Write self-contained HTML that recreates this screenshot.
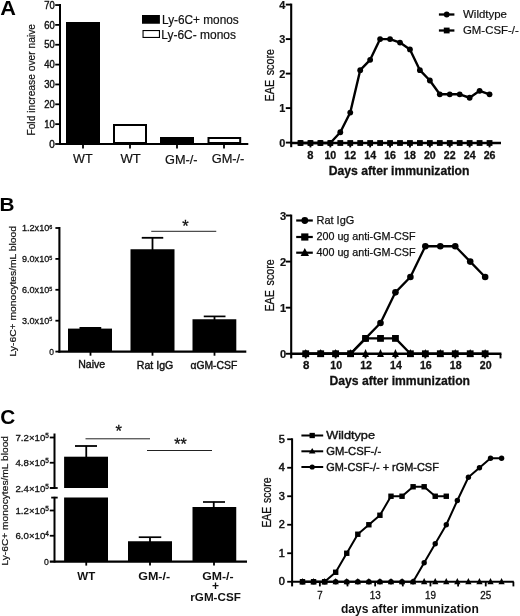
<!DOCTYPE html>
<html lang="en"><head><meta charset="utf-8"><title>Figure</title>
<style>
html,body{margin:0;padding:0;background:#fff;}
svg{display:block;font-family:'Liberation Sans', sans-serif;}
</style></head>
<body>
<svg width="520" height="616" viewBox="0 0 520 616">
<rect x="0" y="0" width="520" height="616" fill="#fff"/>
<text x="0.20" y="15.30" font-size="19.5" textLength="15.70" lengthAdjust="spacingAndGlyphs" font-weight="bold" fill="#000" >A</text>
<line x1="60.00" y1="4.00" x2="60.00" y2="145.00" stroke="#000" stroke-width="2.0" stroke-linecap="butt"/>
<line x1="55.20" y1="144.00" x2="60.00" y2="144.00" stroke="#000" stroke-width="1.8" stroke-linecap="butt"/>
<text x="49.30" y="147.60" font-size="10.2" textLength="5.50" lengthAdjust="spacingAndGlyphs" stroke="#111" stroke-width="0.4" fill="#111" >0</text>
<line x1="55.20" y1="124.15" x2="60.00" y2="124.15" stroke="#000" stroke-width="1.8" stroke-linecap="butt"/>
<text x="44.20" y="127.75" font-size="10.2" textLength="10.50" lengthAdjust="spacingAndGlyphs" stroke="#111" stroke-width="0.4" fill="#111" >10</text>
<line x1="55.20" y1="104.30" x2="60.00" y2="104.30" stroke="#000" stroke-width="1.8" stroke-linecap="butt"/>
<text x="44.20" y="107.90" font-size="10.2" textLength="10.50" lengthAdjust="spacingAndGlyphs" stroke="#111" stroke-width="0.4" fill="#111" >20</text>
<line x1="55.20" y1="84.45" x2="60.00" y2="84.45" stroke="#000" stroke-width="1.8" stroke-linecap="butt"/>
<text x="44.20" y="88.05" font-size="10.2" textLength="10.50" lengthAdjust="spacingAndGlyphs" stroke="#111" stroke-width="0.4" fill="#111" >30</text>
<line x1="55.20" y1="64.60" x2="60.00" y2="64.60" stroke="#000" stroke-width="1.8" stroke-linecap="butt"/>
<text x="44.20" y="68.20" font-size="10.2" textLength="10.50" lengthAdjust="spacingAndGlyphs" stroke="#111" stroke-width="0.4" fill="#111" >40</text>
<line x1="55.20" y1="44.75" x2="60.00" y2="44.75" stroke="#000" stroke-width="1.8" stroke-linecap="butt"/>
<text x="44.20" y="48.35" font-size="10.2" textLength="10.50" lengthAdjust="spacingAndGlyphs" stroke="#111" stroke-width="0.4" fill="#111" >50</text>
<line x1="55.20" y1="24.90" x2="60.00" y2="24.90" stroke="#000" stroke-width="1.8" stroke-linecap="butt"/>
<text x="44.20" y="28.50" font-size="10.2" textLength="10.50" lengthAdjust="spacingAndGlyphs" stroke="#111" stroke-width="0.4" fill="#111" >60</text>
<line x1="55.20" y1="5.05" x2="60.00" y2="5.05" stroke="#000" stroke-width="1.8" stroke-linecap="butt"/>
<text x="44.20" y="8.65" font-size="10.2" textLength="10.50" lengthAdjust="spacingAndGlyphs" stroke="#111" stroke-width="0.4" fill="#111" >70</text>
<line x1="59.00" y1="144.00" x2="248.30" y2="144.00" stroke="#000" stroke-width="2.2" stroke-linecap="butt"/>
<line x1="83.00" y1="144.00" x2="83.00" y2="148.50" stroke="#000" stroke-width="1.8" stroke-linecap="butt"/>
<line x1="130.00" y1="144.00" x2="130.00" y2="148.50" stroke="#000" stroke-width="1.8" stroke-linecap="butt"/>
<line x1="177.00" y1="144.00" x2="177.00" y2="148.50" stroke="#000" stroke-width="1.8" stroke-linecap="butt"/>
<line x1="224.00" y1="144.00" x2="224.00" y2="148.50" stroke="#000" stroke-width="1.8" stroke-linecap="butt"/>
<rect x="66.00" y="22.00" width="34.00" height="122.00" fill="#000"/>
<rect x="114.00" y="125.00" width="32.00" height="18.00" fill="#fff" stroke="#000" stroke-width="2"/>
<rect x="160.00" y="137.00" width="34.00" height="7.00" fill="#000"/>
<rect x="208.50" y="138.00" width="31.70" height="5.00" fill="#fff" stroke="#000" stroke-width="2"/>
<text x="73.00" y="162.50" font-size="13" textLength="19.60" lengthAdjust="spacingAndGlyphs" stroke="#111" stroke-width="0.2" fill="#111" >WT</text>
<text x="120.50" y="162.50" font-size="13" textLength="20.30" lengthAdjust="spacingAndGlyphs" stroke="#111" stroke-width="0.2" fill="#111" >WT</text>
<text x="165.00" y="163.60" font-size="13" textLength="32.50" lengthAdjust="spacingAndGlyphs" stroke="#111" stroke-width="0.2" fill="#111" >GM-/-</text>
<text x="211.70" y="162.80" font-size="13" textLength="32.70" lengthAdjust="spacingAndGlyphs" stroke="#111" stroke-width="0.2" fill="#111" >GM-/-</text>
<rect x="142.00" y="15.00" width="17.90" height="8.75" fill="#000"/>
<rect x="143.05" y="30.55" width="16.40" height="6.90" fill="#fff" stroke="#000" stroke-width="1.1"/>
<text x="162.00" y="23.90" font-size="12.5" textLength="76.75" lengthAdjust="spacingAndGlyphs" stroke="#111" stroke-width="0.2" fill="#111" >Ly-6C+ monos</text>
<text x="161.25" y="38.60" font-size="12.5" textLength="74.75" lengthAdjust="spacingAndGlyphs" stroke="#111" stroke-width="0.2" fill="#111" >Ly-6C- monos</text>
<text transform="translate(34.50,135.60) rotate(-90)" x="0" y="0" font-size="10.8" textLength="111.60" lengthAdjust="spacingAndGlyphs" stroke="#111" stroke-width="0.2" fill="#111">Fold increase over naive</text>
<line x1="291.20" y1="3.60" x2="291.20" y2="147.20" stroke="#000" stroke-width="2.1" stroke-linecap="butt"/>
<line x1="285.80" y1="142.60" x2="291.20" y2="142.60" stroke="#000" stroke-width="1.9" stroke-linecap="butt"/>
<text x="279.20" y="146.50" font-size="10.8" textLength="6.10" lengthAdjust="spacingAndGlyphs" font-weight="bold" stroke="#111" stroke-width="0.2" fill="#111" >0</text>
<line x1="285.80" y1="108.10" x2="291.20" y2="108.10" stroke="#000" stroke-width="1.9" stroke-linecap="butt"/>
<text x="279.20" y="112.00" font-size="10.8" textLength="6.10" lengthAdjust="spacingAndGlyphs" font-weight="bold" stroke="#111" stroke-width="0.2" fill="#111" >1</text>
<line x1="285.80" y1="73.60" x2="291.20" y2="73.60" stroke="#000" stroke-width="1.9" stroke-linecap="butt"/>
<text x="279.20" y="77.50" font-size="10.8" textLength="6.10" lengthAdjust="spacingAndGlyphs" font-weight="bold" stroke="#111" stroke-width="0.2" fill="#111" >2</text>
<line x1="285.80" y1="39.10" x2="291.20" y2="39.10" stroke="#000" stroke-width="1.9" stroke-linecap="butt"/>
<text x="279.20" y="43.00" font-size="10.8" textLength="6.10" lengthAdjust="spacingAndGlyphs" font-weight="bold" stroke="#111" stroke-width="0.2" fill="#111" >3</text>
<line x1="285.80" y1="4.60" x2="291.20" y2="4.60" stroke="#000" stroke-width="1.9" stroke-linecap="butt"/>
<text x="279.20" y="8.50" font-size="10.8" textLength="6.10" lengthAdjust="spacingAndGlyphs" font-weight="bold" stroke="#111" stroke-width="0.2" fill="#111" >4</text>
<line x1="290.50" y1="143.00" x2="501.00" y2="143.00" stroke="#000" stroke-width="2.3" stroke-linecap="butt"/>
<line x1="310.45" y1="143.00" x2="310.45" y2="147.40" stroke="#000" stroke-width="1.9" stroke-linecap="butt"/>
<text x="307.35" y="158.60" font-size="11.4" textLength="6.20" lengthAdjust="spacingAndGlyphs" font-weight="bold" stroke="#111" stroke-width="0.3" fill="#111" >8</text>
<line x1="330.35" y1="143.00" x2="330.35" y2="147.40" stroke="#000" stroke-width="1.9" stroke-linecap="butt"/>
<text x="324.45" y="158.60" font-size="11.4" textLength="11.80" lengthAdjust="spacingAndGlyphs" font-weight="bold" stroke="#111" stroke-width="0.3" fill="#111" >10</text>
<line x1="350.25" y1="143.00" x2="350.25" y2="147.40" stroke="#000" stroke-width="1.9" stroke-linecap="butt"/>
<text x="344.35" y="158.60" font-size="11.4" textLength="11.80" lengthAdjust="spacingAndGlyphs" font-weight="bold" stroke="#111" stroke-width="0.3" fill="#111" >12</text>
<line x1="370.15" y1="143.00" x2="370.15" y2="147.40" stroke="#000" stroke-width="1.9" stroke-linecap="butt"/>
<text x="364.25" y="158.60" font-size="11.4" textLength="11.80" lengthAdjust="spacingAndGlyphs" font-weight="bold" stroke="#111" stroke-width="0.3" fill="#111" >14</text>
<line x1="390.05" y1="143.00" x2="390.05" y2="147.40" stroke="#000" stroke-width="1.9" stroke-linecap="butt"/>
<text x="384.15" y="158.60" font-size="11.4" textLength="11.80" lengthAdjust="spacingAndGlyphs" font-weight="bold" stroke="#111" stroke-width="0.3" fill="#111" >16</text>
<line x1="409.95" y1="143.00" x2="409.95" y2="147.40" stroke="#000" stroke-width="1.9" stroke-linecap="butt"/>
<text x="404.05" y="158.60" font-size="11.4" textLength="11.80" lengthAdjust="spacingAndGlyphs" font-weight="bold" stroke="#111" stroke-width="0.3" fill="#111" >18</text>
<line x1="429.85" y1="143.00" x2="429.85" y2="147.40" stroke="#000" stroke-width="1.9" stroke-linecap="butt"/>
<text x="423.95" y="158.60" font-size="11.4" textLength="11.80" lengthAdjust="spacingAndGlyphs" font-weight="bold" stroke="#111" stroke-width="0.3" fill="#111" >20</text>
<line x1="449.75" y1="143.00" x2="449.75" y2="147.40" stroke="#000" stroke-width="1.9" stroke-linecap="butt"/>
<text x="443.85" y="158.60" font-size="11.4" textLength="11.80" lengthAdjust="spacingAndGlyphs" font-weight="bold" stroke="#111" stroke-width="0.3" fill="#111" >22</text>
<line x1="469.65" y1="143.00" x2="469.65" y2="147.40" stroke="#000" stroke-width="1.9" stroke-linecap="butt"/>
<text x="463.75" y="158.60" font-size="11.4" textLength="11.80" lengthAdjust="spacingAndGlyphs" font-weight="bold" stroke="#111" stroke-width="0.3" fill="#111" >24</text>
<line x1="489.55" y1="143.00" x2="489.55" y2="147.40" stroke="#000" stroke-width="1.9" stroke-linecap="butt"/>
<text x="483.65" y="158.60" font-size="11.4" textLength="11.80" lengthAdjust="spacingAndGlyphs" font-weight="bold" stroke="#111" stroke-width="0.3" fill="#111" >26</text>
<text x="328.75" y="175.00" font-size="12.5" textLength="140.75" lengthAdjust="spacingAndGlyphs" font-weight="bold" stroke="#111" stroke-width="0.3" fill="#111" >Days after immunization</text>
<text transform="translate(274.00,101.40) rotate(-90)" x="0" y="0" font-size="12" textLength="52.40" lengthAdjust="spacingAndGlyphs" stroke="#111" stroke-width="0.25" word-spacing="1.8" fill="#111">EAE score</text>
<polyline fill="none" stroke="#000" stroke-width="2.4" stroke-linejoin="round" points="300.50,143.00 310.45,143.00 320.40,143.00 330.35,143.00 340.30,132.25 350.25,112.58 360.20,70.15 370.15,59.80 380.10,39.10 390.05,39.10 400.00,42.55 409.95,49.45 419.90,70.15 429.85,80.50 439.80,94.30 449.75,94.30 459.70,94.30 469.65,97.75 479.60,90.85 489.55,94.30"/>
<circle cx="300.50" cy="143.00" r="2.9" fill="#000"/>
<circle cx="310.45" cy="143.00" r="2.9" fill="#000"/>
<circle cx="320.40" cy="143.00" r="2.9" fill="#000"/>
<circle cx="330.35" cy="143.00" r="2.9" fill="#000"/>
<circle cx="340.30" cy="132.25" r="2.9" fill="#000"/>
<circle cx="350.25" cy="112.58" r="2.9" fill="#000"/>
<circle cx="360.20" cy="70.15" r="2.9" fill="#000"/>
<circle cx="370.15" cy="59.80" r="2.9" fill="#000"/>
<circle cx="380.10" cy="39.10" r="2.9" fill="#000"/>
<circle cx="390.05" cy="39.10" r="2.9" fill="#000"/>
<circle cx="400.00" cy="42.55" r="2.9" fill="#000"/>
<circle cx="409.95" cy="49.45" r="2.9" fill="#000"/>
<circle cx="419.90" cy="70.15" r="2.9" fill="#000"/>
<circle cx="429.85" cy="80.50" r="2.9" fill="#000"/>
<circle cx="439.80" cy="94.30" r="2.9" fill="#000"/>
<circle cx="449.75" cy="94.30" r="2.9" fill="#000"/>
<circle cx="459.70" cy="94.30" r="2.9" fill="#000"/>
<circle cx="469.65" cy="97.75" r="2.9" fill="#000"/>
<circle cx="479.60" cy="90.85" r="2.9" fill="#000"/>
<circle cx="489.55" cy="94.30" r="2.9" fill="#000"/>
<rect x="297.60" y="140.10" width="5.8" height="5.8" fill="#000"/>
<rect x="307.55" y="140.10" width="5.8" height="5.8" fill="#000"/>
<rect x="317.50" y="140.10" width="5.8" height="5.8" fill="#000"/>
<rect x="327.45" y="140.10" width="5.8" height="5.8" fill="#000"/>
<rect x="337.40" y="140.10" width="5.8" height="5.8" fill="#000"/>
<rect x="347.35" y="140.10" width="5.8" height="5.8" fill="#000"/>
<rect x="357.30" y="140.10" width="5.8" height="5.8" fill="#000"/>
<rect x="367.25" y="140.10" width="5.8" height="5.8" fill="#000"/>
<rect x="377.20" y="140.10" width="5.8" height="5.8" fill="#000"/>
<rect x="387.15" y="140.10" width="5.8" height="5.8" fill="#000"/>
<rect x="397.10" y="140.10" width="5.8" height="5.8" fill="#000"/>
<rect x="407.05" y="140.10" width="5.8" height="5.8" fill="#000"/>
<rect x="417.00" y="140.10" width="5.8" height="5.8" fill="#000"/>
<rect x="426.95" y="140.10" width="5.8" height="5.8" fill="#000"/>
<rect x="436.90" y="140.10" width="5.8" height="5.8" fill="#000"/>
<rect x="446.85" y="140.10" width="5.8" height="5.8" fill="#000"/>
<rect x="456.80" y="140.10" width="5.8" height="5.8" fill="#000"/>
<rect x="466.75" y="140.10" width="5.8" height="5.8" fill="#000"/>
<rect x="476.70" y="140.10" width="5.8" height="5.8" fill="#000"/>
<rect x="486.65" y="140.10" width="5.8" height="5.8" fill="#000"/>
<line x1="438.90" y1="14.50" x2="454.40" y2="14.50" stroke="#000" stroke-width="2.3" stroke-linecap="butt"/>
<circle cx="446.70" cy="14.50" r="2.9" fill="#000"/>
<line x1="438.90" y1="30.50" x2="454.40" y2="30.50" stroke="#000" stroke-width="2.3" stroke-linecap="butt"/>
<rect x="443.80" y="27.60" width="5.8" height="5.8" fill="#000"/>
<text x="463.00" y="18.00" font-size="11.5" textLength="44.00" lengthAdjust="spacingAndGlyphs" stroke="#111" stroke-width="0.2" fill="#111" >Wildtype</text>
<text x="463.00" y="34.00" font-size="11.5" textLength="55.75" lengthAdjust="spacingAndGlyphs" stroke="#111" stroke-width="0.2" fill="#111" >GM-CSF-/-</text>
<text x="-0.40" y="210.90" font-size="19.2" textLength="15.00" lengthAdjust="spacingAndGlyphs" font-weight="bold" fill="#000" >B</text>
<line x1="59.40" y1="227.00" x2="59.40" y2="352.60" stroke="#000" stroke-width="2.1" stroke-linecap="butt"/>
<line x1="55.40" y1="351.60" x2="59.40" y2="351.60" stroke="#000" stroke-width="1.8" stroke-linecap="butt"/>
<text x="49.30" y="354.90" font-size="9.2" textLength="4.70" lengthAdjust="spacingAndGlyphs" stroke="#111" stroke-width="0.3" fill="#111" >0</text>
<line x1="55.40" y1="320.70" x2="59.40" y2="320.70" stroke="#000" stroke-width="1.8" stroke-linecap="butt"/>
<text x="22.00" y="324.00" font-size="9.2" textLength="30.30" lengthAdjust="spacingAndGlyphs" stroke="#111" stroke-width="0.3" fill="#111" >3.0x10<tspan dy="-2.6" font-size="5.5">5</tspan></text>
<line x1="55.40" y1="289.80" x2="59.40" y2="289.80" stroke="#000" stroke-width="1.8" stroke-linecap="butt"/>
<text x="22.00" y="293.10" font-size="9.2" textLength="30.30" lengthAdjust="spacingAndGlyphs" stroke="#111" stroke-width="0.3" fill="#111" >6.0x10<tspan dy="-2.6" font-size="5.5">5</tspan></text>
<line x1="55.40" y1="258.90" x2="59.40" y2="258.90" stroke="#000" stroke-width="1.8" stroke-linecap="butt"/>
<text x="22.00" y="262.20" font-size="9.2" textLength="30.30" lengthAdjust="spacingAndGlyphs" stroke="#111" stroke-width="0.3" fill="#111" >9.0x10<tspan dy="-2.6" font-size="5.5">5</tspan></text>
<line x1="55.40" y1="228.00" x2="59.40" y2="228.00" stroke="#000" stroke-width="1.8" stroke-linecap="butt"/>
<text x="22.00" y="231.30" font-size="9.2" textLength="30.30" lengthAdjust="spacingAndGlyphs" stroke="#111" stroke-width="0.3" fill="#111" >1.2x10<tspan dy="-2.6" font-size="5.5">6</tspan></text>
<line x1="58.40" y1="351.60" x2="246.30" y2="351.60" stroke="#000" stroke-width="2.1" stroke-linecap="butt"/>
<line x1="90.50" y1="351.60" x2="90.50" y2="355.70" stroke="#000" stroke-width="1.8" stroke-linecap="butt"/>
<line x1="152.50" y1="351.60" x2="152.50" y2="355.70" stroke="#000" stroke-width="1.8" stroke-linecap="butt"/>
<line x1="214.50" y1="351.60" x2="214.50" y2="355.70" stroke="#000" stroke-width="1.8" stroke-linecap="butt"/>
<rect x="68.00" y="328.60" width="44.00" height="23.00" fill="#000"/>
<rect x="79.50" y="327.00" width="21.75" height="2.00" fill="#000"/>
<rect x="130.50" y="249.25" width="44.00" height="102.35" fill="#000"/>
<line x1="152.50" y1="237.50" x2="152.50" y2="250.00" stroke="#000" stroke-width="1.8" stroke-linecap="butt"/>
<line x1="141.75" y1="237.80" x2="163.25" y2="237.80" stroke="#000" stroke-width="1.8" stroke-linecap="butt"/>
<rect x="192.50" y="319.25" width="43.80" height="32.35" fill="#000"/>
<line x1="214.50" y1="316.30" x2="214.50" y2="320.00" stroke="#000" stroke-width="1.8" stroke-linecap="butt"/>
<line x1="203.75" y1="316.40" x2="225.50" y2="316.40" stroke="#000" stroke-width="1.7" stroke-linecap="butt"/>
<text x="78.20" y="368.30" font-size="10.6" textLength="27.00" lengthAdjust="spacingAndGlyphs" stroke="#111" stroke-width="0.4" fill="#111" >Naive</text>
<text x="136.80" y="368.50" font-size="10.6" textLength="36.50" lengthAdjust="spacingAndGlyphs" stroke="#111" stroke-width="0.4" fill="#111" >Rat IgG</text>
<text x="190.40" y="369.10" font-size="10.6" textLength="46.90" lengthAdjust="spacingAndGlyphs" stroke="#111" stroke-width="0.4" fill="#111" >αGM-CSF</text>
<line x1="151.25" y1="231.30" x2="216.25" y2="231.30" stroke="#222" stroke-width="1" stroke-linecap="butt"/>
<text x="185.40" y="231.90" font-size="16.5" text-anchor="middle" stroke="#111" stroke-width="0.3" fill="#111" >*</text>
<text transform="translate(16.25,356.50) rotate(-90)" x="0" y="0" font-size="9.5" textLength="130.50" lengthAdjust="spacingAndGlyphs" stroke="#111" stroke-width="0.2" fill="#111">Ly-6C+ monocytes/mL blood</text>
<line x1="291.20" y1="214.60" x2="291.20" y2="358.40" stroke="#000" stroke-width="2.1" stroke-linecap="butt"/>
<line x1="285.80" y1="353.75" x2="291.20" y2="353.75" stroke="#000" stroke-width="1.9" stroke-linecap="butt"/>
<text x="280.00" y="357.75" font-size="10.8" textLength="6.20" lengthAdjust="spacingAndGlyphs" font-weight="bold" stroke="#111" stroke-width="0.2" fill="#111" >0</text>
<line x1="285.80" y1="307.67" x2="291.20" y2="307.67" stroke="#000" stroke-width="1.9" stroke-linecap="butt"/>
<text x="280.00" y="311.67" font-size="10.8" textLength="6.20" lengthAdjust="spacingAndGlyphs" font-weight="bold" stroke="#111" stroke-width="0.2" fill="#111" >1</text>
<line x1="285.80" y1="261.59" x2="291.20" y2="261.59" stroke="#000" stroke-width="1.9" stroke-linecap="butt"/>
<text x="280.00" y="265.59" font-size="10.8" textLength="6.20" lengthAdjust="spacingAndGlyphs" font-weight="bold" stroke="#111" stroke-width="0.2" fill="#111" >2</text>
<line x1="285.80" y1="215.51" x2="291.20" y2="215.51" stroke="#000" stroke-width="1.9" stroke-linecap="butt"/>
<text x="280.00" y="219.51" font-size="10.8" textLength="6.20" lengthAdjust="spacingAndGlyphs" font-weight="bold" stroke="#111" stroke-width="0.2" fill="#111" >3</text>
<line x1="290.50" y1="353.75" x2="501.40" y2="353.75" stroke="#000" stroke-width="2.3" stroke-linecap="butt"/>
<line x1="305.75" y1="353.75" x2="305.75" y2="358.40" stroke="#000" stroke-width="1.9" stroke-linecap="butt"/>
<text x="303.05" y="369.40" font-size="11.4" textLength="6.40" lengthAdjust="spacingAndGlyphs" font-weight="bold" stroke="#111" stroke-width="0.3" fill="#111" >8</text>
<line x1="335.65" y1="353.75" x2="335.65" y2="358.40" stroke="#000" stroke-width="1.9" stroke-linecap="butt"/>
<text x="330.25" y="369.40" font-size="11.4" textLength="11.80" lengthAdjust="spacingAndGlyphs" font-weight="bold" stroke="#111" stroke-width="0.3" fill="#111" >10</text>
<line x1="365.55" y1="353.75" x2="365.55" y2="358.40" stroke="#000" stroke-width="1.9" stroke-linecap="butt"/>
<text x="360.15" y="369.40" font-size="11.4" textLength="11.80" lengthAdjust="spacingAndGlyphs" font-weight="bold" stroke="#111" stroke-width="0.3" fill="#111" >12</text>
<line x1="395.45" y1="353.75" x2="395.45" y2="358.40" stroke="#000" stroke-width="1.9" stroke-linecap="butt"/>
<text x="390.05" y="369.40" font-size="11.4" textLength="11.80" lengthAdjust="spacingAndGlyphs" font-weight="bold" stroke="#111" stroke-width="0.3" fill="#111" >14</text>
<line x1="425.35" y1="353.75" x2="425.35" y2="358.40" stroke="#000" stroke-width="1.9" stroke-linecap="butt"/>
<text x="419.95" y="369.40" font-size="11.4" textLength="11.80" lengthAdjust="spacingAndGlyphs" font-weight="bold" stroke="#111" stroke-width="0.3" fill="#111" >16</text>
<line x1="455.25" y1="353.75" x2="455.25" y2="358.40" stroke="#000" stroke-width="1.9" stroke-linecap="butt"/>
<text x="449.85" y="369.40" font-size="11.4" textLength="11.80" lengthAdjust="spacingAndGlyphs" font-weight="bold" stroke="#111" stroke-width="0.3" fill="#111" >18</text>
<line x1="485.15" y1="353.75" x2="485.15" y2="358.40" stroke="#000" stroke-width="1.9" stroke-linecap="butt"/>
<text x="479.75" y="369.40" font-size="11.4" textLength="11.80" lengthAdjust="spacingAndGlyphs" font-weight="bold" stroke="#111" stroke-width="0.3" fill="#111" >20</text>
<line x1="500.50" y1="353.75" x2="500.50" y2="358.40" stroke="#000" stroke-width="1.9" stroke-linecap="butt"/>
<text x="329.50" y="385.40" font-size="12.5" textLength="140.50" lengthAdjust="spacingAndGlyphs" font-weight="bold" stroke="#111" stroke-width="0.3" fill="#111" >Days after immunization</text>
<text transform="translate(274.00,311.60) rotate(-90)" x="0" y="0" font-size="12" textLength="52.40" lengthAdjust="spacingAndGlyphs" stroke="#111" stroke-width="0.25" word-spacing="1.8" fill="#111">EAE score</text>
<polygon points="305.75,348.96 302.31,356.94 309.19,356.94" fill="#000"/>
<polygon points="320.70,348.96 317.26,356.94 324.14,356.94" fill="#000"/>
<polygon points="335.65,348.96 332.21,356.94 339.09,356.94" fill="#000"/>
<polygon points="350.60,348.96 347.16,356.94 354.04,356.94" fill="#000"/>
<polygon points="365.55,348.96 362.11,356.94 368.99,356.94" fill="#000"/>
<polygon points="380.50,348.96 377.06,356.94 383.94,356.94" fill="#000"/>
<polygon points="395.45,348.96 392.01,356.94 398.89,356.94" fill="#000"/>
<polygon points="410.40,348.96 406.96,356.94 413.84,356.94" fill="#000"/>
<polygon points="425.35,348.96 421.91,356.94 428.79,356.94" fill="#000"/>
<polygon points="440.30,348.96 436.86,356.94 443.74,356.94" fill="#000"/>
<polygon points="455.25,348.96 451.81,356.94 458.69,356.94" fill="#000"/>
<polygon points="470.20,348.96 466.76,356.94 473.64,356.94" fill="#000"/>
<polygon points="485.15,348.96 481.71,356.94 488.59,356.94" fill="#000"/>
<polyline fill="none" stroke="#000" stroke-width="2.3" stroke-linejoin="round" points="305.75,353.75 320.70,353.75 335.65,353.75 350.60,353.75 365.55,338.41 380.50,323.01 395.45,292.33 410.40,276.93 425.35,246.25 440.30,246.25 455.25,246.25 470.20,261.59 485.15,276.93"/>
<circle cx="305.75" cy="353.75" r="3.3" fill="#000"/>
<circle cx="320.70" cy="353.75" r="3.3" fill="#000"/>
<circle cx="335.65" cy="353.75" r="3.3" fill="#000"/>
<circle cx="350.60" cy="353.75" r="3.3" fill="#000"/>
<circle cx="365.55" cy="338.41" r="3.3" fill="#000"/>
<circle cx="380.50" cy="323.01" r="3.3" fill="#000"/>
<circle cx="395.45" cy="292.33" r="3.3" fill="#000"/>
<circle cx="410.40" cy="276.93" r="3.3" fill="#000"/>
<circle cx="425.35" cy="246.25" r="3.3" fill="#000"/>
<circle cx="440.30" cy="246.25" r="3.3" fill="#000"/>
<circle cx="455.25" cy="246.25" r="3.3" fill="#000"/>
<circle cx="470.20" cy="261.59" r="3.3" fill="#000"/>
<circle cx="485.15" cy="276.93" r="3.3" fill="#000"/>
<polyline fill="none" stroke="#000" stroke-width="2.3" stroke-linejoin="round" points="305.75,353.75 320.70,353.75 335.65,353.75 350.60,353.75 365.55,338.41 380.50,338.41 395.45,338.41 410.40,353.75 425.35,353.75 440.30,353.75 455.25,353.75 470.20,353.75 485.15,353.75"/>
<rect x="302.35" y="350.35" width="6.8" height="6.8" fill="#000"/>
<rect x="317.30" y="350.35" width="6.8" height="6.8" fill="#000"/>
<rect x="332.25" y="350.35" width="6.8" height="6.8" fill="#000"/>
<rect x="347.20" y="350.35" width="6.8" height="6.8" fill="#000"/>
<rect x="362.15" y="335.01" width="6.8" height="6.8" fill="#000"/>
<rect x="377.10" y="335.01" width="6.8" height="6.8" fill="#000"/>
<rect x="392.05" y="335.01" width="6.8" height="6.8" fill="#000"/>
<rect x="407.00" y="350.35" width="6.8" height="6.8" fill="#000"/>
<rect x="421.95" y="350.35" width="6.8" height="6.8" fill="#000"/>
<rect x="436.90" y="350.35" width="6.8" height="6.8" fill="#000"/>
<rect x="451.85" y="350.35" width="6.8" height="6.8" fill="#000"/>
<rect x="466.80" y="350.35" width="6.8" height="6.8" fill="#000"/>
<rect x="481.75" y="350.35" width="6.8" height="6.8" fill="#000"/>
<line x1="296.20" y1="220.50" x2="312.80" y2="220.50" stroke="#000" stroke-width="2.2" stroke-linecap="butt"/>
<circle cx="304.80" cy="220.50" r="3.4" fill="#000"/>
<line x1="296.20" y1="237.00" x2="312.80" y2="237.00" stroke="#000" stroke-width="2.2" stroke-linecap="butt"/>
<rect x="301.20" y="233.40" width="7.2" height="7.2" fill="#000"/>
<line x1="296.20" y1="252.70" x2="312.80" y2="252.70" stroke="#000" stroke-width="2.2" stroke-linecap="butt"/>
<polygon points="304.80,247.91 300.60,255.89 309.00,255.89" fill="#000"/>
<text x="316.50" y="224.40" font-size="11" textLength="37.80" lengthAdjust="spacingAndGlyphs" stroke="#111" stroke-width="0.25" fill="#111" >Rat IgG</text>
<text x="316.50" y="240.40" font-size="11" textLength="99.00" lengthAdjust="spacingAndGlyphs" stroke="#111" stroke-width="0.25" fill="#111" >200 ug anti-GM-CSF</text>
<text x="316.50" y="256.20" font-size="11" textLength="99.00" lengthAdjust="spacingAndGlyphs" stroke="#111" stroke-width="0.25" fill="#111" >400 ug anti-GM-CSF</text>
<text x="0.20" y="424.30" font-size="20.6" textLength="15.00" lengthAdjust="spacingAndGlyphs" font-weight="bold" fill="#000" >C</text>
<line x1="54.50" y1="433.50" x2="54.50" y2="488.80" stroke="#000" stroke-width="2.0" stroke-linecap="butt"/>
<line x1="54.50" y1="496.80" x2="54.50" y2="562.50" stroke="#000" stroke-width="2.0" stroke-linecap="butt"/>
<line x1="50.00" y1="488.00" x2="57.70" y2="488.00" stroke="#000" stroke-width="1.8" stroke-linecap="butt"/>
<line x1="51.20" y1="497.60" x2="57.70" y2="497.60" stroke="#000" stroke-width="1.8" stroke-linecap="butt"/>
<line x1="49.80" y1="437.50" x2="54.50" y2="437.50" stroke="#000" stroke-width="1.8" stroke-linecap="butt"/>
<text x="15.50" y="441.00" font-size="9.7" textLength="33.40" lengthAdjust="spacingAndGlyphs" stroke="#111" stroke-width="0.3" fill="#111" >7.2×10<tspan dy="-2.8" font-size="6.5">5</tspan></text>
<line x1="49.80" y1="462.75" x2="54.50" y2="462.75" stroke="#000" stroke-width="1.8" stroke-linecap="butt"/>
<text x="15.50" y="466.25" font-size="9.7" textLength="33.40" lengthAdjust="spacingAndGlyphs" stroke="#111" stroke-width="0.3" fill="#111" >4.8×10<tspan dy="-2.8" font-size="6.5">5</tspan></text>
<line x1="49.80" y1="488.00" x2="54.50" y2="488.00" stroke="#000" stroke-width="1.8" stroke-linecap="butt"/>
<text x="15.50" y="491.50" font-size="9.7" textLength="33.40" lengthAdjust="spacingAndGlyphs" stroke="#111" stroke-width="0.3" fill="#111" >2.4×10<tspan dy="-2.8" font-size="6.5">5</tspan></text>
<line x1="49.80" y1="510.50" x2="54.50" y2="510.50" stroke="#000" stroke-width="1.8" stroke-linecap="butt"/>
<text x="15.50" y="514.00" font-size="9.7" textLength="33.40" lengthAdjust="spacingAndGlyphs" stroke="#111" stroke-width="0.3" fill="#111" >1.2×10<tspan dy="-2.8" font-size="6.5">5</tspan></text>
<line x1="49.80" y1="535.75" x2="54.50" y2="535.75" stroke="#000" stroke-width="1.8" stroke-linecap="butt"/>
<text x="15.50" y="539.25" font-size="9.7" textLength="33.40" lengthAdjust="spacingAndGlyphs" stroke="#111" stroke-width="0.3" fill="#111" >6.0×10<tspan dy="-2.8" font-size="6.5">4</tspan></text>
<text x="44.10" y="565.00" font-size="9.7" textLength="4.80" lengthAdjust="spacingAndGlyphs" stroke="#111" stroke-width="0.3" fill="#111" >0</text>
<line x1="49.80" y1="561.60" x2="247.00" y2="561.60" stroke="#000" stroke-width="2.1" stroke-linecap="butt"/>
<line x1="86.25" y1="561.60" x2="86.25" y2="565.60" stroke="#000" stroke-width="1.8" stroke-linecap="butt"/>
<line x1="150.00" y1="561.60" x2="150.00" y2="565.60" stroke="#000" stroke-width="1.8" stroke-linecap="butt"/>
<line x1="214.00" y1="561.60" x2="214.00" y2="565.60" stroke="#000" stroke-width="1.8" stroke-linecap="butt"/>
<rect x="64.10" y="456.70" width="43.90" height="31.30" fill="#000"/>
<rect x="64.10" y="497.50" width="43.90" height="64.10" fill="#000"/>
<line x1="86.25" y1="445.80" x2="86.25" y2="457.00" stroke="#000" stroke-width="1.8" stroke-linecap="butt"/>
<line x1="75.00" y1="446.00" x2="97.00" y2="446.00" stroke="#000" stroke-width="1.8" stroke-linecap="butt"/>
<rect x="128.00" y="541.25" width="44.00" height="20.35" fill="#000"/>
<line x1="150.00" y1="537.00" x2="150.00" y2="542.00" stroke="#000" stroke-width="1.8" stroke-linecap="butt"/>
<line x1="138.75" y1="537.20" x2="161.25" y2="537.20" stroke="#000" stroke-width="1.7" stroke-linecap="butt"/>
<rect x="192.50" y="507.00" width="43.75" height="54.60" fill="#000"/>
<line x1="213.75" y1="501.80" x2="213.75" y2="508.00" stroke="#000" stroke-width="1.8" stroke-linecap="butt"/>
<line x1="203.00" y1="502.00" x2="225.00" y2="502.00" stroke="#000" stroke-width="1.7" stroke-linecap="butt"/>
<text x="77.30" y="579.70" font-size="11.6" textLength="17.90" lengthAdjust="spacingAndGlyphs" font-weight="bold" fill="#111" >WT</text>
<text x="138.20" y="579.70" font-size="11.6" textLength="32.00" lengthAdjust="spacingAndGlyphs" font-weight="bold" fill="#111" >GM-/-</text>
<text x="202.20" y="579.70" font-size="11.6" textLength="31.40" lengthAdjust="spacingAndGlyphs" font-weight="bold" fill="#111" >GM-/-</text>
<text x="215.50" y="590.40" font-size="12" text-anchor="middle" font-weight="bold" fill="#111" >+</text>
<text x="190.30" y="601.20" font-size="11.7" textLength="50.50" lengthAdjust="spacingAndGlyphs" font-weight="bold" fill="#111" >rGM-CSF</text>
<line x1="85.50" y1="438.80" x2="150.00" y2="438.80" stroke="#222" stroke-width="1" stroke-linecap="butt"/>
<line x1="147.00" y1="450.50" x2="212.00" y2="450.50" stroke="#222" stroke-width="1" stroke-linecap="butt"/>
<text x="118.60" y="436.80" font-size="16.5" text-anchor="middle" stroke="#111" stroke-width="0.3" fill="#111" >*</text>
<text x="174.30" y="450.00" font-size="16.5" textLength="12.50" lengthAdjust="spacingAndGlyphs" stroke="#111" stroke-width="0.3" fill="#111" >**</text>
<text transform="translate(8.30,565.60) rotate(-90)" x="0" y="0" font-size="9.7" textLength="129.60" lengthAdjust="spacingAndGlyphs" stroke="#111" stroke-width="0.2" fill="#111">Ly-6C+ monocytes/mL blood</text>
<line x1="292.10" y1="438.30" x2="292.10" y2="586.40" stroke="#000" stroke-width="2.0" stroke-linecap="butt"/>
<line x1="287.20" y1="581.75" x2="292.10" y2="581.75" stroke="#000" stroke-width="1.8" stroke-linecap="butt"/>
<text x="278.80" y="585.45" font-size="10.5" textLength="6.10" lengthAdjust="spacingAndGlyphs" stroke="#111" stroke-width="0.5" fill="#111" >0</text>
<line x1="287.20" y1="553.25" x2="292.10" y2="553.25" stroke="#000" stroke-width="1.8" stroke-linecap="butt"/>
<text x="278.80" y="556.95" font-size="10.5" textLength="6.10" lengthAdjust="spacingAndGlyphs" stroke="#111" stroke-width="0.5" fill="#111" >1</text>
<line x1="287.20" y1="524.75" x2="292.10" y2="524.75" stroke="#000" stroke-width="1.8" stroke-linecap="butt"/>
<text x="278.80" y="528.45" font-size="10.5" textLength="6.10" lengthAdjust="spacingAndGlyphs" stroke="#111" stroke-width="0.5" fill="#111" >2</text>
<line x1="287.20" y1="496.25" x2="292.10" y2="496.25" stroke="#000" stroke-width="1.8" stroke-linecap="butt"/>
<text x="278.80" y="499.95" font-size="10.5" textLength="6.10" lengthAdjust="spacingAndGlyphs" stroke="#111" stroke-width="0.5" fill="#111" >3</text>
<line x1="287.20" y1="467.75" x2="292.10" y2="467.75" stroke="#000" stroke-width="1.8" stroke-linecap="butt"/>
<text x="278.80" y="471.45" font-size="10.5" textLength="6.10" lengthAdjust="spacingAndGlyphs" stroke="#111" stroke-width="0.5" fill="#111" >4</text>
<line x1="287.20" y1="439.25" x2="292.10" y2="439.25" stroke="#000" stroke-width="1.8" stroke-linecap="butt"/>
<text x="278.80" y="442.95" font-size="10.5" textLength="6.10" lengthAdjust="spacingAndGlyphs" stroke="#111" stroke-width="0.5" fill="#111" >5</text>
<line x1="291.20" y1="581.75" x2="513.80" y2="581.75" stroke="#000" stroke-width="2.0" stroke-linecap="butt"/>
<line x1="319.85" y1="581.75" x2="319.85" y2="586.40" stroke="#000" stroke-width="1.8" stroke-linecap="butt"/>
<line x1="347.50" y1="581.75" x2="347.50" y2="586.40" stroke="#000" stroke-width="1.8" stroke-linecap="butt"/>
<line x1="375.15" y1="581.75" x2="375.15" y2="586.40" stroke="#000" stroke-width="1.8" stroke-linecap="butt"/>
<line x1="402.80" y1="581.75" x2="402.80" y2="586.40" stroke="#000" stroke-width="1.8" stroke-linecap="butt"/>
<line x1="430.45" y1="581.75" x2="430.45" y2="586.40" stroke="#000" stroke-width="1.8" stroke-linecap="butt"/>
<line x1="458.10" y1="581.75" x2="458.10" y2="586.40" stroke="#000" stroke-width="1.8" stroke-linecap="butt"/>
<line x1="485.75" y1="581.75" x2="485.75" y2="586.40" stroke="#000" stroke-width="1.8" stroke-linecap="butt"/>
<line x1="513.40" y1="581.75" x2="513.40" y2="586.40" stroke="#000" stroke-width="1.8" stroke-linecap="butt"/>
<text x="317.15" y="598.90" font-size="10.3" textLength="5.40" lengthAdjust="spacingAndGlyphs" stroke="#111" stroke-width="0.3" fill="#111" >7</text>
<text x="369.65" y="598.90" font-size="10.3" textLength="11.00" lengthAdjust="spacingAndGlyphs" stroke="#111" stroke-width="0.3" fill="#111" >13</text>
<text x="424.95" y="598.90" font-size="10.3" textLength="11.00" lengthAdjust="spacingAndGlyphs" stroke="#111" stroke-width="0.3" fill="#111" >19</text>
<text x="480.25" y="598.90" font-size="10.3" textLength="11.00" lengthAdjust="spacingAndGlyphs" stroke="#111" stroke-width="0.3" fill="#111" >25</text>
<text x="341.00" y="612.70" font-size="12.5" textLength="137.75" lengthAdjust="spacingAndGlyphs" font-weight="bold" fill="#111" >days after immunization</text>
<text transform="translate(270.80,527.60) rotate(-90)" x="0" y="0" font-size="12" textLength="50.10" lengthAdjust="spacingAndGlyphs" stroke="#111" stroke-width="0.25" word-spacing="1" fill="#111">EAE score</text>
<polyline fill="none" stroke="#000" stroke-width="2.0" stroke-linejoin="round" points="302.50,581.75 313.56,581.75 324.62,581.75 335.68,572.26 346.74,553.25 357.80,534.24 368.86,524.75 379.92,515.26 390.98,496.25 402.04,496.25 413.10,486.76 424.16,486.76 435.22,496.25 446.28,496.25"/>
<polygon points="302.50,577.99 299.37,584.26 305.63,584.26" fill="#000"/>
<polygon points="313.56,577.99 310.43,584.26 316.69,584.26" fill="#000"/>
<polygon points="324.62,577.99 321.49,584.26 327.75,584.26" fill="#000"/>
<polygon points="335.68,577.99 332.55,584.26 338.81,584.26" fill="#000"/>
<polygon points="346.74,577.99 343.61,584.26 349.88,584.26" fill="#000"/>
<polygon points="357.80,577.99 354.67,584.26 360.94,584.26" fill="#000"/>
<polygon points="368.86,577.99 365.73,584.26 372.00,584.26" fill="#000"/>
<polygon points="379.92,577.99 376.79,584.26 383.06,584.26" fill="#000"/>
<polygon points="390.98,577.99 387.85,584.26 394.12,584.26" fill="#000"/>
<polygon points="402.04,577.99 398.91,584.26 405.18,584.26" fill="#000"/>
<polygon points="413.10,577.99 409.97,584.26 416.24,584.26" fill="#000"/>
<polygon points="424.16,577.99 421.03,584.26 427.30,584.26" fill="#000"/>
<polygon points="435.22,577.99 432.09,584.26 438.36,584.26" fill="#000"/>
<polygon points="446.28,577.99 443.14,584.26 449.41,584.26" fill="#000"/>
<polygon points="457.34,577.99 454.21,584.26 460.48,584.26" fill="#000"/>
<polygon points="468.40,577.99 465.26,584.26 471.53,584.26" fill="#000"/>
<polygon points="479.46,577.99 476.33,584.26 482.60,584.26" fill="#000"/>
<polygon points="490.52,577.99 487.38,584.26 493.65,584.26" fill="#000"/>
<polygon points="501.58,577.99 498.45,584.26 504.72,584.26" fill="#000"/>
<polyline fill="none" stroke="#000" stroke-width="2.0" stroke-linejoin="round" points="302.50,581.75 313.56,581.75 324.62,581.75 335.68,581.75 346.74,581.75 357.80,581.75 368.86,581.75 379.92,581.75 390.98,581.75 402.04,581.75 413.10,581.75 424.16,562.74 435.22,543.76 446.28,524.75 457.34,500.52 468.40,477.24 479.46,467.75 490.52,458.26 501.58,458.26"/>
<circle cx="302.50" cy="581.75" r="2.7" fill="#000"/>
<circle cx="313.56" cy="581.75" r="2.7" fill="#000"/>
<circle cx="324.62" cy="581.75" r="2.7" fill="#000"/>
<circle cx="335.68" cy="581.75" r="2.7" fill="#000"/>
<circle cx="346.74" cy="581.75" r="2.7" fill="#000"/>
<circle cx="357.80" cy="581.75" r="2.7" fill="#000"/>
<circle cx="368.86" cy="581.75" r="2.7" fill="#000"/>
<circle cx="379.92" cy="581.75" r="2.7" fill="#000"/>
<circle cx="390.98" cy="581.75" r="2.7" fill="#000"/>
<circle cx="402.04" cy="581.75" r="2.7" fill="#000"/>
<circle cx="413.10" cy="581.75" r="2.7" fill="#000"/>
<circle cx="424.16" cy="562.74" r="2.7" fill="#000"/>
<circle cx="435.22" cy="543.76" r="2.7" fill="#000"/>
<circle cx="446.28" cy="524.75" r="2.7" fill="#000"/>
<circle cx="457.34" cy="500.52" r="2.7" fill="#000"/>
<circle cx="468.40" cy="477.24" r="2.7" fill="#000"/>
<circle cx="479.46" cy="467.75" r="2.7" fill="#000"/>
<circle cx="490.52" cy="458.26" r="2.7" fill="#000"/>
<circle cx="501.58" cy="458.26" r="2.7" fill="#000"/>
<rect x="299.80" y="579.05" width="5.4" height="5.4" fill="#000"/>
<rect x="310.86" y="579.05" width="5.4" height="5.4" fill="#000"/>
<rect x="321.92" y="579.05" width="5.4" height="5.4" fill="#000"/>
<rect x="332.98" y="569.56" width="5.4" height="5.4" fill="#000"/>
<rect x="344.04" y="550.55" width="5.4" height="5.4" fill="#000"/>
<rect x="355.10" y="531.54" width="5.4" height="5.4" fill="#000"/>
<rect x="366.16" y="522.05" width="5.4" height="5.4" fill="#000"/>
<rect x="377.22" y="512.56" width="5.4" height="5.4" fill="#000"/>
<rect x="388.28" y="493.55" width="5.4" height="5.4" fill="#000"/>
<rect x="399.34" y="493.55" width="5.4" height="5.4" fill="#000"/>
<rect x="410.40" y="484.06" width="5.4" height="5.4" fill="#000"/>
<rect x="421.46" y="484.06" width="5.4" height="5.4" fill="#000"/>
<rect x="432.52" y="493.55" width="5.4" height="5.4" fill="#000"/>
<rect x="443.58" y="493.55" width="5.4" height="5.4" fill="#000"/>
<line x1="301.40" y1="435.50" x2="323.20" y2="435.50" stroke="#000" stroke-width="2.0" stroke-linecap="butt"/>
<rect x="309.55" y="432.85" width="5.3" height="5.3" fill="#000"/>
<line x1="301.40" y1="451.30" x2="323.20" y2="451.30" stroke="#000" stroke-width="2.0" stroke-linecap="butt"/>
<polygon points="312.20,447.93 308.90,453.54 315.50,453.54" fill="#000"/>
<line x1="301.40" y1="467.00" x2="323.20" y2="467.00" stroke="#000" stroke-width="2.0" stroke-linecap="butt"/>
<circle cx="312.20" cy="467.00" r="2.6" fill="#000"/>
<text x="326.25" y="438.80" font-size="11.5" textLength="48.75" lengthAdjust="spacingAndGlyphs" stroke="#111" stroke-width="0.4" fill="#111" >Wildtype</text>
<text x="326.25" y="454.60" font-size="11.5" textLength="55.00" lengthAdjust="spacingAndGlyphs" stroke="#111" stroke-width="0.4" fill="#111" >GM-CSF-/-</text>
<text x="326.25" y="470.60" font-size="11.5" textLength="112.55" lengthAdjust="spacingAndGlyphs" stroke="#111" stroke-width="0.4" fill="#111" >GM-CSF-/- + rGM-CSF</text>
</svg>
</body></html>
